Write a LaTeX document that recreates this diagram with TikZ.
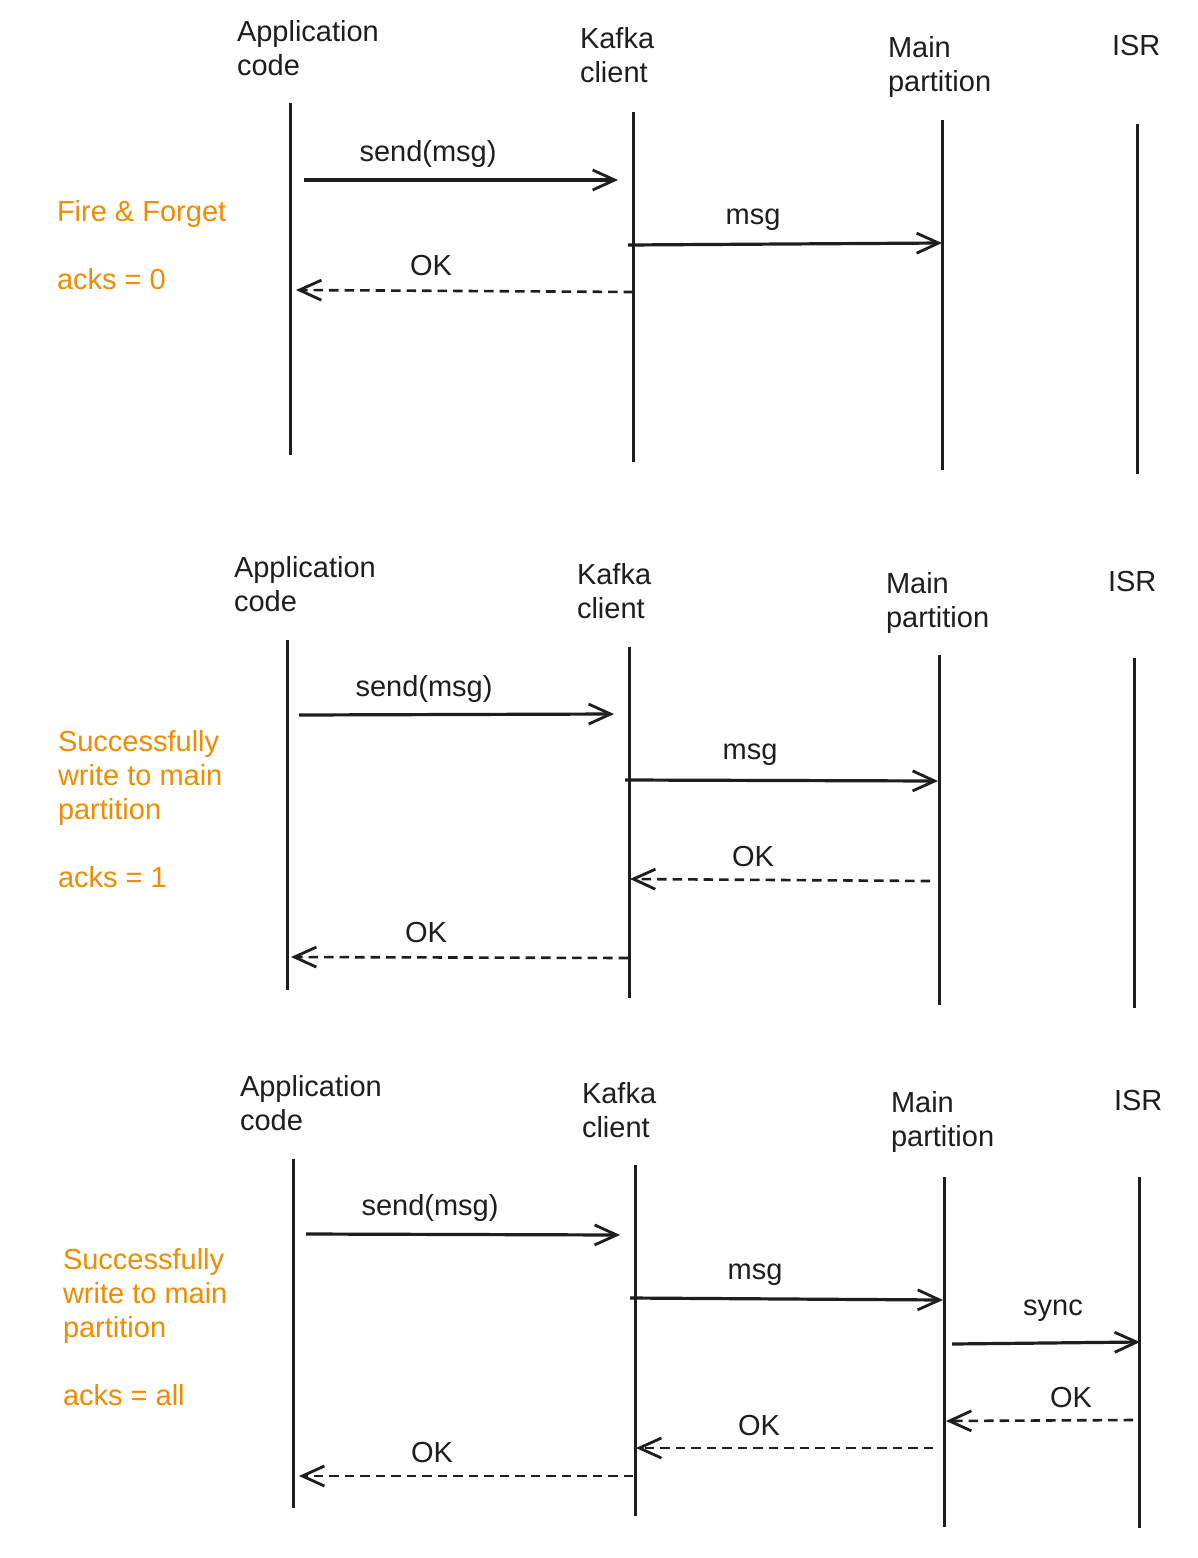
\documentclass[tikz,border=0pt]{standalone}
\usepackage{fontspec}
\setmainfont{Liberation Sans}
\usetikzlibrary{arrows.meta}
\definecolor{ink}{HTML}{1E1E1E}
\definecolor{orng}{HTML}{F08C00}
\begin{document}
\begin{tikzpicture}[x=1pt,y=-1pt,
  txt/.style={font=\fontsize{29}{34}\selectfont, text=ink, inner sep=0pt, outer sep=0pt},
  head/.style={txt, anchor=base west, align=left},
  note/.style={txt, text=orng, anchor=base west, align=left},
  msglbl/.style={txt, anchor=base},
  life/.style={draw=ink, line width=3pt},
  call/.style={draw=ink, line width=3.2pt, -{Straight Barb[length=22pt,width=20pt,line width=2.8pt]}},
  reply/.style={call, line width=2.6pt, dash pattern=on 9.5pt off 6pt},
]
\useasboundingbox[fill=white] (0,0) rectangle (1198,1558);

% ================= Panel 1 =================
\node[head] (hA1) at (237,75.5) {Application\\code};
\node[head] (hK1) at (580,82.5) {Kafka\\client};
\node[head] (hM1) at (888,91.5) {Main\\partition};
\node[head] (hI1) at (1112,55.5) {ISR};
\node[note] (n1) at (57,289) {Fire \& Forget\\[34pt]acks = 0};

\coordinate (A1t) at (290,103);  \coordinate (A1b) at (290,455);
\coordinate (K1t) at (633,112);  \coordinate (K1b) at (633,462);
\coordinate (M1t) at (942,120);  \coordinate (M1b) at (942,470);
\coordinate (I1t) at (1137,124); \coordinate (I1b) at (1137,474);
\draw[life] (A1t) -- (A1b);
\draw[life] (K1t) -- (K1b);
\draw[life] (M1t) -- (M1b);
\draw[life] (I1t) -- (I1b);

\coordinate (s1a) at (304,180); \coordinate (s1b) at (618,180);
\coordinate (m1a) at (628,245); \coordinate (m1b) at (942,243);
\coordinate (o1a) at (633,292); \coordinate (o1b) at (296,290);
\draw[call] (s1a) -- (s1b);
\draw[call] (m1a) -- (m1b);
\draw[reply] (o1a) -- (o1b);
\node[msglbl] (ls1) at (428,161.5) {send(msg)};
\node[msglbl] (lm1) at (753,224) {msg};
\node[msglbl] (lo1) at (431,275) {OK};

% ================= Panel 2 =================
\node[head] (hA2) at (234,611.5) {Application\\code};
\node[head] (hK2) at (577,618.5) {Kafka\\client};
\node[head] (hM2) at (886,627.5) {Main\\partition};
\node[head] (hI2) at (1108,591.5) {ISR};
\node[note] (n2) at (58,887) {Successfully\\write to main\\partition\\[34pt]acks = 1};

\coordinate (A2t) at (287,640);  \coordinate (A2b) at (287,990);
\coordinate (K2t) at (629,647);  \coordinate (K2b) at (629,998);
\coordinate (M2t) at (939,655);  \coordinate (M2b) at (939,1005);
\coordinate (I2t) at (1134,658); \coordinate (I2b) at (1134,1008);
\draw[life] (A2t) -- (A2b);
\draw[life] (K2t) -- (K2b);
\draw[life] (M2t) -- (M2b);
\draw[life] (I2t) -- (I2b);

\coordinate (s2a) at (299,715); \coordinate (s2b) at (614,714);
\coordinate (m2a) at (625,780); \coordinate (m2b) at (938,781);
\coordinate (o2a) at (930,881); \coordinate (o2b) at (630,879);
\coordinate (p2a) at (628,958); \coordinate (p2b) at (291,957);
\draw[call] (s2a) -- (s2b);
\draw[call] (m2a) -- (m2b);
\draw[reply] (o2a) -- (o2b);
\draw[reply] (p2a) -- (p2b);
\node[msglbl] (ls2) at (424,696) {send(msg)};
\node[msglbl] (lm2) at (750,759) {msg};
\node[msglbl] (lo2) at (753,866) {OK};
\node[msglbl] (lp2) at (426,942) {OK};

% ================= Panel 3 =================
\node[head] (hA3) at (240,1130.5) {Application\\code};
\node[head] (hK3) at (582,1137.5) {Kafka\\client};
\node[head] (hM3) at (891,1146.5) {Main\\partition};
\node[head] (hI3) at (1114,1110.5) {ISR};
\node[note] (n3) at (63,1405) {Successfully\\write to main\\partition\\[34pt]acks = all};

\coordinate (A3t) at (293,1159);  \coordinate (A3b) at (293,1508);
\coordinate (K3t) at (635,1165);  \coordinate (K3b) at (635,1516);
\coordinate (M3t) at (944,1177);  \coordinate (M3b) at (944,1527);
\coordinate (I3t) at (1139,1177); \coordinate (I3b) at (1139,1528);
\draw[life] (A3t) -- (A3b);
\draw[life] (K3t) -- (K3b);
\draw[life] (M3t) -- (M3b);
\draw[life] (I3t) -- (I3b);

\coordinate (s3a) at (306,1234); \coordinate (s3b) at (620,1235);
\coordinate (m3a) at (630,1298); \coordinate (m3b) at (943,1300);
\coordinate (y3a) at (952,1344); \coordinate (y3b) at (1140,1342);
\coordinate (o3a) at (1133,1420); \coordinate (o3b) at (946,1421);
\coordinate (p3a) at (933,1448); \coordinate (p3b) at (636,1448);
\coordinate (q3a) at (633,1476); \coordinate (q3b) at (299,1476);
\draw[call] (s3a) -- (s3b);
\draw[call] (m3a) -- (m3b);
\draw[call] (y3a) -- (y3b);
\draw[reply] (o3a) -- (o3b);
\draw[reply] (p3a) -- (p3b);
\draw[reply] (q3a) -- (q3b);
\node[msglbl] (ls3) at (430,1215) {send(msg)};
\node[msglbl] (lm3) at (755,1279) {msg};
\node[msglbl] (ly3) at (1053,1315) {sync};
\node[msglbl] (lo3) at (1071,1407) {OK};
\node[msglbl] (lp3) at (759,1435) {OK};
\node[msglbl] (lq3) at (432,1462) {OK};
\end{tikzpicture}
\end{document}
